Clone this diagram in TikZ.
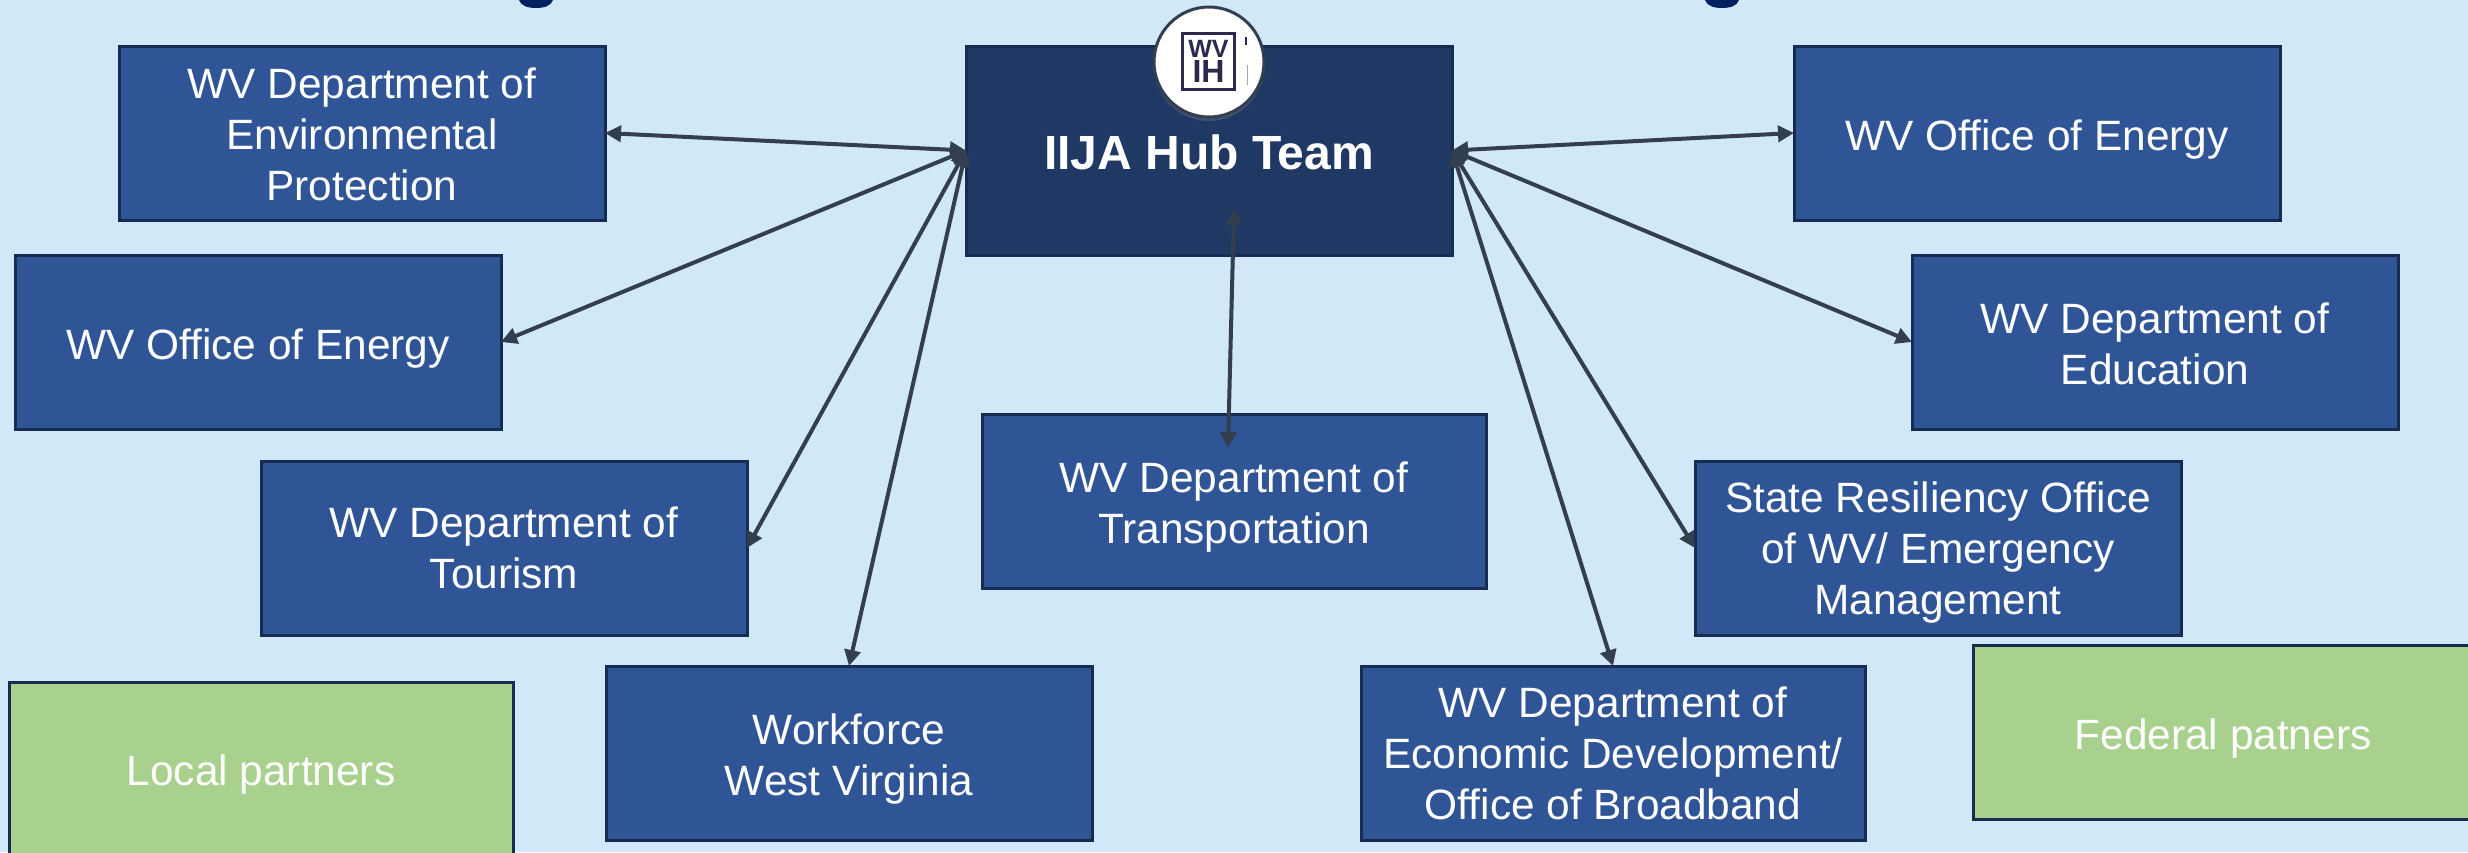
\documentclass[tikz,border=0pt]{standalone}
\usepackage{fontspec}
\setmainfont{Liberation Sans}
\usetikzlibrary{arrows.meta,shadows,calc}
\definecolor{bgc}{HTML}{D1E8F8}
\definecolor{hubc}{HTML}{203864}
\definecolor{boxc}{HTML}{2F5597}
\definecolor{edgec}{HTML}{172C51}
\definecolor{greenc}{HTML}{A9D18E}
\definecolor{linec}{HTML}{333F50}
\definecolor{titlec}{HTML}{002060}
\definecolor{logoc}{HTML}{2A2A4E}
\newcommand{\tdn}{\mbox{}\\[-3.8pt]}
\newcommand{\tdnb}{\mbox{}\\[-5.3pt]}
\newcommand{\tdnc}{\mbox{}\\[-8.3pt]}
\tikzset{
  x=0.5pt,y=-0.5pt,
  bluebox/.style={draw=edgec,line width=1.5pt,outer sep=0pt,fill=boxc,text=white,minimum width=243pt,minimum height=87pt,inner sep=0pt,align=center,font=\fontsize{21.2}{25.5}\selectfont,anchor=north west},
  widebox/.style={bluebox,minimum width=252pt},
  greenbox/.style={bluebox,fill=greenc},
  link/.style={draw=linec,line width=2pt,{Triangle[length=8pt,width=8pt]}-{Triangle[length=8pt,width=8pt]}}
}
\begin{document}
\begin{tikzpicture}
\useasboundingbox (0,0) rectangle (2468,852);
\fill[bgc] (0,0) rectangle (2468,852);
\fill[titlec] (519,0) -- (553,0) .. controls (551,6) and (544,8) .. (536,8) .. controls (528,8) and (521,6) .. (519,0) -- cycle;
\fill[titlec] (1705,0) -- (1739,0) .. controls (1737,6) and (1730,8) .. (1722,8) .. controls (1714,8) and (1707,6) .. (1705,0) -- cycle;
\node[bluebox,fill=hubc,minimum height=104.5pt,font=\fontsize{24}{28}\selectfont\bfseries] (hub) at (966,46) {\tdnc IIJA Hub Team};
\node[bluebox] (env) at (119,46) {\tdnc WV Department of\\Environmental\\Protection};
\node[bluebox] (enl) at (15,255) {\tdn WV Office of Energy};
\node[bluebox] (tour) at (261,461) {WV Department of\\Tourism};
\node[bluebox] (work) at (606,666) {\tdn Workforce\\West Virginia};
\node[widebox] (trans) at (982,414) {\tdn WV Department of\\Transportation};
\node[widebox] (ded) at (1361,666) {WV Department of\\Economic Development/\\Office of Broadband};
\node[bluebox] (state) at (1695,461) {\tdnb State Resiliency Office\\of WV/ Emergency\\Management};
\node[bluebox] (enr) at (1794,46) {\tdn WV Office of Energy};
\node[bluebox] (edu) at (1912,255) {\tdnc WV Department of\\Education};
\node[greenbox,minimum width=252pt,minimum height=88pt] (local) at (9,682) {\tdnb Local partners};
\node[greenbox,minimum width=250pt] (fed) at (1973,645) {\tdn Federal patners};
\coordinate (hubin) at (1234,209);
\coordinate (transin) at (1228,448);
\draw[link] (hub.west) -- (env.east);
\draw[link] (hub.west) -- (enl.east);
\draw[link] (hub.west) -- (tour.east);
\draw[link] (hub.west) -- (work.north);
\draw[link] (hub.east) -- (enr.west);
\draw[link] (hub.east) -- (edu.west);
\draw[link] (hub.east) -- (state.west);
\draw[link] (hub.east) -- (ded.north);
\draw[link] (hubin) -- (transin);
\node[circle,draw=linec,line width=1.5pt,fill=white,minimum size=55pt,inner sep=0pt,drop shadow={shadow xshift=0pt,shadow yshift=-2pt,opacity=0.35}] (logo) at (1209,62) {};
\node[draw=logoc,line width=1.8pt,fill=white,minimum width=26pt,minimum height=28pt,inner sep=0pt,align=center,text=logoc,font=\fontsize{12.5}{12.5}\selectfont\bfseries] (mark) at (1208.5,61.5) {WV\\\fontsize{16}{12.5}\selectfont IH};
\fill[logoc] (1245,37) rectangle (1247,45);
\fill[gray!70] (1246.5,65) rectangle (1247.5,85);
\end{tikzpicture}
\end{document}
